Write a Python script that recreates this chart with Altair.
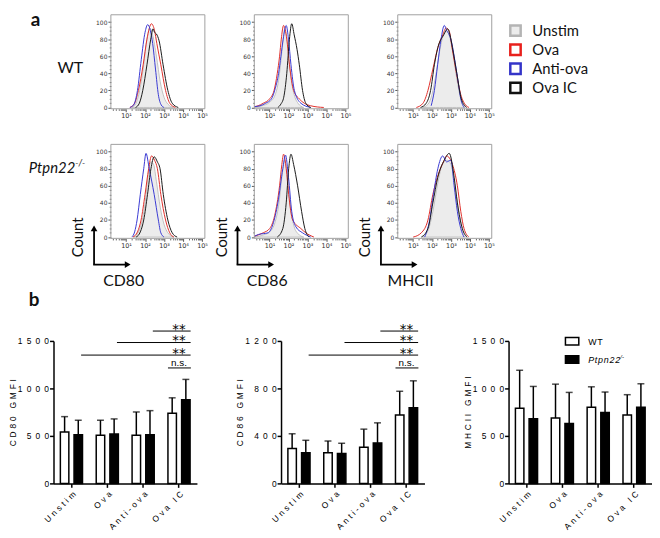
import math
import altair as alt
import pandas as pd

# ---------------- panel a : flow histograms (x in log10 decades, y = % max) -------------
SAMPLES = ["Unstim", "Ova", "Anti-ova", "Ova IC"]

# CD80, WT
cd80_wt_unstim = ([1.3, 1.5, 1.7, 1.9, 2.1, 2.25, 2.4, 2.6, 2.8, 3.0, 3.2, 3.5],
                  [0, 4, 18, 45, 80, 93, 85, 60, 30, 12, 4, 0])
cd80_wt_ova = ([1.2, 1.45, 1.65, 1.9, 2.1, 2.34, 2.5, 2.62, 2.83, 3.08, 3.3, 3.6],
               [0, 5, 20, 50, 80, 98, 90, 75, 50, 20, 5, 0])
cd80_wt_anti = ([1.2, 1.4, 1.6, 1.8, 2.0, 2.14, 2.28, 2.4, 2.55, 2.7, 2.85, 3.0],
                [0, 3, 20, 56, 88, 97, 90, 75, 45, 15, 3, 0])
cd80_wt_ic = ([1.5, 1.7, 1.88, 2.1, 2.3, 2.42, 2.5, 2.6, 2.74, 2.95, 3.2, 3.43, 3.75],
              [0, 5, 20, 50, 80, 92, 88, 86, 78, 50, 20, 5, 0])
# CD86, WT
cd86_wt_unstim = ([0.2, 0.6, 1.0, 1.3, 1.5, 1.65, 1.8, 1.95, 2.1, 2.3, 2.5, 2.8],
                  [0, 2, 6, 15, 35, 65, 92, 75, 40, 15, 5, 0])
cd86_wt_ova = ([0.2, 0.4, 0.67, 1.0, 1.24, 1.41, 1.53, 1.62, 1.74, 1.91, 2.05, 2.27, 2.57, 2.83, 3.17, 3.86],
               [1, 2, 5, 10, 20, 40, 60, 80, 96, 80, 50, 20, 10, 5, 2, 0])
cd86_wt_anti = ([0.2, 0.5, 0.8, 1.1, 1.3, 1.48, 1.6, 1.72, 1.88, 2.0, 2.13, 2.31, 2.65, 3.17],
                [1, 2, 5, 10, 22, 40, 60, 80, 96, 80, 50, 20, 5, 0])
cd86_wt_ic = ([1.44, 1.6, 1.75, 1.91, 2.05, 2.17, 2.3, 2.45, 2.57, 2.74, 2.91, 3.17],
              [0, 4, 12, 40, 80, 98, 85, 68, 50, 20, 5, 0])
# MHCII, WT
mhc_wt_unstim = ([1.5, 1.8, 2.0, 2.2, 2.4, 2.6, 2.75, 2.9, 3.1, 3.3, 3.5, 3.75],
                 [0, 4, 15, 38, 65, 85, 90, 85, 65, 35, 12, 0])
mhc_wt_ova = ([1.18, 1.53, 1.79, 2.05, 2.31, 2.57, 2.74, 2.9, 3.06, 3.29, 3.52, 3.77, 3.95],
              [0, 5, 20, 45, 70, 85, 93, 90, 70, 40, 15, 3, 0])
mhc_wt_anti = ([1.96, 2.13, 2.3, 2.48, 2.65, 2.78, 2.91, 3.05, 3.17, 3.38, 3.52, 3.69],
               [2, 20, 50, 80, 96, 90, 85, 75, 60, 30, 10, 0])
mhc_wt_ic = ([1.4, 1.7, 1.93, 2.13, 2.31, 2.62, 2.83, 2.95, 3.08, 3.31, 3.55, 3.83],
             [0, 5, 20, 50, 70, 85, 92, 85, 70, 40, 10, 0])
# CD80, Ptpn22-/-
cd80_ko_unstim = ([1.4, 1.6, 1.8, 2.0, 2.15, 2.3, 2.45, 2.6, 2.8, 3.0, 3.2, 3.5],
                  [0, 4, 15, 40, 70, 88, 85, 65, 35, 15, 5, 0])
cd80_ko_ova = ([1.36, 1.6, 1.79, 2.0, 2.19, 2.34, 2.5, 2.65, 2.83, 3.08, 3.3, 3.52],
               [0, 6, 20, 50, 80, 95, 90, 80, 50, 20, 5, 0])
cd80_ko_anti = ([1.3, 1.45, 1.58, 1.75, 1.93, 2.05, 2.22, 2.48, 2.7, 2.83, 3.0],
                [0, 6, 20, 50, 80, 98, 80, 50, 20, 5, 0])
cd80_ko_ic = ([1.53, 1.75, 1.93, 2.13, 2.31, 2.48, 2.65, 2.79, 2.96, 3.2, 3.43, 3.69],
              [0, 6, 20, 50, 80, 94, 88, 80, 50, 20, 5, 0])
# CD86, Ptpn22-/-
cd86_ko_unstim = ([0.2, 0.6, 1.0, 1.3, 1.5, 1.65, 1.8, 1.95, 2.1, 2.3, 2.5, 2.8],
                  [0, 2, 6, 18, 40, 70, 90, 70, 35, 12, 4, 0])
cd86_ko_ova = ([0.2, 0.67, 1.01, 1.27, 1.53, 1.65, 1.74, 1.88, 2.01, 2.22, 2.65, 2.91, 3.34],
               [1, 5, 10, 25, 60, 85, 97, 80, 50, 20, 10, 5, 0])
cd86_ko_anti = ([0.2, 0.41, 0.93, 1.18, 1.44, 1.7, 1.84, 2.0, 2.17, 2.39, 2.74, 3.17],
                [1, 3, 5, 15, 40, 80, 96, 70, 30, 12, 5, 0])
cd86_ko_ic = ([1.41, 1.7, 1.88, 2.01, 2.13, 2.27, 2.48, 2.69, 2.86, 3.08],
              [0, 10, 40, 80, 97, 85, 60, 30, 10, 0])
# MHCII, Ptpn22-/-
mhc_ko_unstim = ([1.5, 1.8, 2.05, 2.3, 2.55, 2.8, 3.0, 3.2, 3.4, 3.6, 3.85],
                 [0, 8, 30, 62, 85, 90, 85, 62, 32, 10, 0])
mhc_ko_ova = ([1.01, 1.44, 1.79, 2.05, 2.36, 2.65, 2.77, 3.08, 3.34, 3.52, 3.69, 3.95],
              [0, 5, 20, 50, 75, 90, 95, 85, 60, 30, 10, 0])
mhc_ko_anti = ([1.62, 1.88, 2.08, 2.31, 2.57, 2.77, 3.0, 3.17, 3.34, 3.52, 3.69],
               [0, 20, 50, 80, 95, 88, 90, 60, 30, 10, 0])
mhc_ko_ic = ([1.44, 1.79, 2.05, 2.31, 2.65, 2.91, 3.17, 3.34, 3.6, 3.86],
             [0, 10, 40, 70, 90, 98, 70, 40, 10, 0])

MARKERS = ["CD80", "CD86", "MHCII"]
X_TICKS = [1, 2, 3, 4, 5]
Y_TICKS = [0, 20, 40, 60, 80, 100]

# ---------------- panel b : GMFI bars -------------
STIMS = ["Unstim", "Ova", "Anti-ova", "Ova IC"]
GENOS = ["WT", "KO"]
CD80_WT_MEAN = [540, 506, 506, 738]
CD80_WT_SD = [163, 159, 246, 163]
CD80_KO_MEAN = [512, 520, 512, 880]
CD80_KO_SD = [153, 159, 254, 215]
CD86_WT_MEAN = [293, 258, 305, 576]
CD86_WT_SD = [125, 99, 152, 200]
CD86_KO_MEAN = [258, 252, 341, 637]
CD86_KO_SD = [105, 86, 169, 227]
MHC_WT_MEAN = [792, 688, 802, 719]
MHC_WT_SD = [399, 357, 215, 215]
MHC_KO_MEAN = [680, 632, 746, 802]
MHC_KO_SD = [341, 326, 216, 247]
SIG_FROM = ["Anti-ova", "Ova", "Unstim"]
SIG_TEXT = ["**", "**", "**"]

# ---------------- styling -------------
RED, BLUE, BLACK = "#e0302a", "#3a3ad2", "#1a1a1a"
GRAY_FILL, GRAY_LINE = "#ececec", "#b4b4b4"
HW, HH = 95, 95
ONE = pd.DataFrame({"k": [0]})

# log-axis minor tick positions (2..9 x 10^n) and y minor ticks
MINOR_X = [round(n + math.log10(k), 4) for n in range(0, 6) for k in range(2, 10)
           if 0.2 <= n + math.log10(k) <= 5.15]
MINOR_Y = [v for v in range(5, 105, 5) if v % 20]


def txt(s, x, y, size, align="left", baseline="middle", font="Lato",
        weight="normal", style="normal", angle=0, color="#111111"):
    return alt.Chart(ONE).mark_text(
        text=s, align=align, baseline=baseline, font=font, fontSize=size,
        fontWeight=weight, fontStyle=style, angle=angle, color=color
    ).encode(x=alt.value(x), y=alt.value(y))


HX = alt.Scale(domain=[0.2, 5.15], nice=False, zero=False)
HY = alt.Scale(domain=[-1.5, 108.5], nice=False, zero=False)
HXAX = alt.Axis(values=X_TICKS, title=None, grid=False, domain=False, orient="bottom",
                labelExpr="'10' + ['\u2070','\u00b9','\u00b2','\u00b3','\u2074','\u2075'][datum.value]",
                labelFont="DejaVu Sans", labelFontSize=6.5, labelColor="#333333",
                tickSize=3, tickColor="#555555", labelPadding=1)
HYAX = alt.Axis(values=Y_TICKS, title=None, grid=False, domain=False, orient="left",
                labelFont="DejaVu Sans", labelFontSize=6, labelColor="#333333",
                tickSize=3, tickColor="#555555", labelPadding=1)
HXMIN = alt.Axis(values=MINOR_X, title=None, grid=False, domain=False, orient="bottom",
                 labels=False, tickSize=1.6, tickColor="#666666")
HYMIN = alt.Axis(values=MINOR_Y, title=None, grid=False, domain=False, orient="left",
                 labels=False, tickSize=1.6, tickColor="#666666")


def cdf(curve):
    return pd.DataFrame({"d": curve[0], "c": curve[1]})


def hist(curves, marker=None, legend=False):
    unstim, ova, anti, ic = curves
    enc = dict(x=alt.X("d:Q", scale=HX, axis=HXAX), y=alt.Y("c:Q", scale=HY, axis=HYAX))
    enc0 = dict(x=alt.X("d:Q", scale=HX, axis=None), y=alt.Y("c:Q", scale=HY, axis=None))
    layers = [
        alt.Chart(cdf(unstim)).mark_area(interpolate="monotone", fill=GRAY_FILL,
                                         stroke=GRAY_LINE, strokeWidth=0.8).encode(**enc),
        alt.Chart(cdf(ova)).mark_line(interpolate="monotone", color=RED, strokeWidth=1).encode(**enc0),
        alt.Chart(cdf(anti)).mark_line(interpolate="monotone", color=BLUE, strokeWidth=1).encode(**enc0),
        alt.Chart(cdf(ic)).mark_line(interpolate="monotone", color=BLACK, strokeWidth=1).encode(**enc0),
        alt.Chart(cdf(unstim)).mark_point(opacity=0).encode(
            x=alt.X("d:Q", scale=HX, axis=HXMIN), y=alt.Y("c:Q", scale=HY, axis=HYMIN)),
        alt.Chart(ONE).mark_rect(fillOpacity=0, stroke="#a0a0a0", strokeWidth=1).encode(
            x=alt.value(0), x2=alt.value(HW), y=alt.value(0), y2=alt.value(HH)),
    ]
    if marker is not None:
        layers += [
            alt.Chart(ONE).mark_rule(color="black", strokeWidth=1.8).encode(
                x=alt.value(-17), y=alt.value(87), y2=alt.value(121.5)),
            alt.Chart(ONE).mark_rule(color="black", strokeWidth=1.8).encode(
                x=alt.value(-17.9), x2=alt.value(15), y=alt.value(121.5)),
            alt.Chart(ONE).mark_point(shape="triangle-up", size=45, filled=True, opacity=1,
                                      color="black").encode(x=alt.value(-17), y=alt.value(85)),
            alt.Chart(ONE).mark_point(shape="triangle-right", size=45, filled=True, opacity=1,
                                      color="black").encode(x=alt.value(17), y=alt.value(121.5)),
            txt("Count", -33, 94, 15, align="center", angle=270),
            txt(marker, 13, 138, 16, align="center"),
        ]
    if legend:
        strokes = [GRAY_LINE, "#e8201c", "#3434c8", "#111111"]
        fills = [GRAY_FILL, "white", "white", "white"]
        for i, name in enumerate(SAMPLES):
            yy = 16 + 19.3 * i
            layers.append(alt.Chart(ONE).mark_square(size=110, fill=fills[i], stroke=strokes[i],
                                                     strokeWidth=2.5, opacity=1).encode(
                x=alt.value(119), y=alt.value(yy)))
            layers.append(txt(name, 136, yy, 15))
    return alt.layer(*layers).resolve_axis(x="independent", y="independent").properties(
        width=HW, height=HH)


wt_curves = [
    (cd80_wt_unstim, cd80_wt_ova, cd80_wt_anti, cd80_wt_ic),
    (cd86_wt_unstim, cd86_wt_ova, cd86_wt_anti, cd86_wt_ic),
    (mhc_wt_unstim, mhc_wt_ova, mhc_wt_anti, mhc_wt_ic),
]
ko_curves = [
    (cd80_ko_unstim, cd80_ko_ova, cd80_ko_anti, cd80_ko_ic),
    (cd86_ko_unstim, cd86_ko_ova, cd86_ko_anti, cd86_ko_ic),
    (mhc_ko_unstim, mhc_ko_ova, mhc_ko_anti, mhc_ko_ic),
]

label_wt = alt.layer(
    txt("a", 22, -4, 19, baseline="top", weight="bold"),
    txt("WT", 75, 54, 16, align="right"),
).properties(width=53, height=HH)
label_ko = alt.layer(
    txt("Ptpn22", 67, 24, 15, align="right", style="italic"),
    txt("-/-", 67, 19, 9, align="left", style="italic"),
).properties(width=53, height=HH)

row_wt = alt.hconcat(label_wt, *[hist(wt_curves[i], legend=(i == 2)) for i in range(3)],
                     spacing=50, bounds="flush")
row_ko = alt.hconcat(label_ko, *[hist(ko_curves[i], marker=MARKERS[i]) for i in range(3)],
                     spacing=50, bounds="flush")
# nested concat groups count as zero-size under "flush": spacing = row height + gap
top = alt.vconcat(row_wt, row_ko, spacing=HH + 36, bounds="flush")

# ---------------- bar charts -------------
BW, BH = 145, 144
XB = alt.Scale(domain=STIMS, paddingInner=0.23, paddingOuter=0.115)
XO = alt.Scale(domain=GENOS, paddingInner=0.38, paddingOuter=0.2)
SP_DIG = "\u2002"
SP_TXT = "\u2004"


def spaced(s):
    return SP_TXT.join(list(s))


def bar_chart(wt_m, wt_sd, ko_m, ko_sd, ymax, yticks, ytitle, sig=True, legend=False):
    df = pd.DataFrame({"stim": STIMS * 2, "geno": ["WT"] * 4 + ["KO"] * 4,
                       "mean": wt_m + ko_m, "sd": wt_sd + ko_sd})
    df["upper"] = df["mean"] + df["sd"]
    xax = alt.Axis(labelAngle=-45, labelFont="Liberation Sans", labelFontSize=8.5,
                   labelColor="black", tickSize=4, tickWidth=1.5, tickColor="black",
                   domainWidth=1.5, domainColor="black", labelPadding=2,
                   labelExpr="replace(datum.label, regexp('(.)(?!$)', 'g'), '$1" + SP_TXT + "')")
    yax = alt.Axis(values=yticks, format="d", labelFont="Liberation Sans", labelFontSize=8.5,
                   labelColor="black", tickSize=4, tickWidth=1.5, tickColor="black",
                   domainWidth=1.5, domainColor="black", labelPadding=1, grid=False,
                   labelExpr="replace(datum.label, regexp('(.)(?!$)', 'g'), '$1" + SP_DIG + "')",
                   titleFont="Liberation Sans", titleFontSize=8.5, titleFontWeight="normal",
                   titleColor="#000000", titlePadding=0)
    x = alt.X("stim:N", scale=XB, axis=xax, title=None)
    xo = alt.XOffset("geno:N", scale=XO)
    ysc = alt.Scale(domain=[0, ymax], nice=False)
    base = alt.Chart(df)
    layers = [
        base.mark_rule(color="black", strokeWidth=1.5).encode(
            x=x, xOffset=xo, y=alt.Y("mean:Q", scale=ysc, axis=yax, title=spaced(ytitle)),
            y2="upper:Q"),
        base.mark_tick(orient="horizontal", color="black", thickness=1.5, size=7).encode(
            x=x, xOffset=xo, y=alt.Y("upper:Q", scale=ysc)),
        base.mark_bar(stroke="black", strokeWidth=1.5).encode(
            x=x, xOffset=xo, y=alt.Y("mean:Q", scale=ysc),
            fill=alt.Fill("geno:N", scale=alt.Scale(domain=GENOS, range=["white", "black"]),
                          legend=None)),
    ]
    if sig:
        line_y = [-10, 1.6, 14.3]
        for k in range(3):
            sdf = pd.DataFrame({"from": [SIG_FROM[k]], "to": ["Ova IC"], "lab": [SIG_TEXT[k]]})
            sb = alt.Chart(sdf)
            layers.append(sb.mark_rule(color="black", strokeWidth=1).encode(
                x=alt.X("from:N", scale=XB, bandPosition=0.85, title=None),
                x2=alt.X2("to:N", bandPosition=0.92),
                y=alt.value(line_y[k])))
            layers.append(sb.mark_text(font="DejaVu Sans", fontSize=13.5, align="center",
                                       baseline="alphabetic", dy=3, color="black").encode(
                x=alt.X("to:N", scale=XB, bandPosition=0.5, title=None),
                y=alt.value(line_y[k]), text="lab:N"))
        ndf = pd.DataFrame({"from": ["Ova IC"], "to": ["Ova IC"], "lab": ["n.s."]})
        nb = alt.Chart(ndf)
        layers.append(nb.mark_rule(color="black", strokeWidth=1).encode(
            x=alt.X("from:N", scale=XB, bandPosition=0.1, title=None),
            x2=alt.X2("to:N", bandPosition=0.93), y=alt.value(27.3)))
        layers.append(nb.mark_text(font="Liberation Sans", fontSize=10, align="center",
                                   baseline="alphabetic", dy=-2, color="black").encode(
            x=alt.X("to:N", scale=XB, bandPosition=0.5, title=None),
            y=alt.value(27.3), text="lab:N"))
    if legend:
        layers += [
            alt.Chart(ONE).mark_rect(fill="white", stroke="black", strokeWidth=1.5).encode(
                x=alt.value(57.5), x2=alt.value(71), y=alt.value(-3.5), y2=alt.value(4)),
            alt.Chart(ONE).mark_rect(fill="black", stroke="black", strokeWidth=1.5).encode(
                x=alt.value(57.5), x2=alt.value(71), y=alt.value(15), y2=alt.value(22.5)),
            txt("W\u200aT", 80.5, 1, 9, font="Liberation Sans", color="black"),
            txt("P\u200at\u200ap\u200an\u200a2\u200a2", 80.5, 19.5, 9, font="Liberation Sans",
                style="italic", color="black"),
            txt("-/-", 111, 16, 6, font="Liberation Sans", style="italic", color="black"),
        ]
    return alt.layer(*layers).properties(width=BW, height=BH)


c1 = bar_chart(CD80_WT_MEAN, CD80_WT_SD, CD80_KO_MEAN, CD80_KO_SD, 1500, [0, 500, 1000, 1500], "CD80 GMFI")
c2 = bar_chart(CD86_WT_MEAN, CD86_WT_SD, CD86_KO_MEAN, CD86_KO_SD, 1200, [0, 400, 800, 1200], "CD86 GMFI")
c3 = bar_chart(MHC_WT_MEAN, MHC_WT_SD, MHC_KO_MEAN, MHC_KO_SD, 1500, [0, 500, 1000, 1500], "MHCII GMFI",
               sig=False, legend=True)

spacer = txt("b", 20, -50, 19, baseline="top", weight="bold").properties(width=30, height=BH)
bottom = alt.hconcat(spacer, alt.hconcat(c1, c2, c3, spacing=85, bounds="flush"),
                     spacing=15, bounds="flush")

# top group counts as zero height under "flush": bar plots start 329.7 px below top row
chart = alt.vconcat(top, bottom, spacing=329.7, bounds="flush").properties(
    padding=0, background="white"
).configure_view(strokeWidth=0)

chart.save("out.html", embed_options={"renderer": "svg", "actions": False})
